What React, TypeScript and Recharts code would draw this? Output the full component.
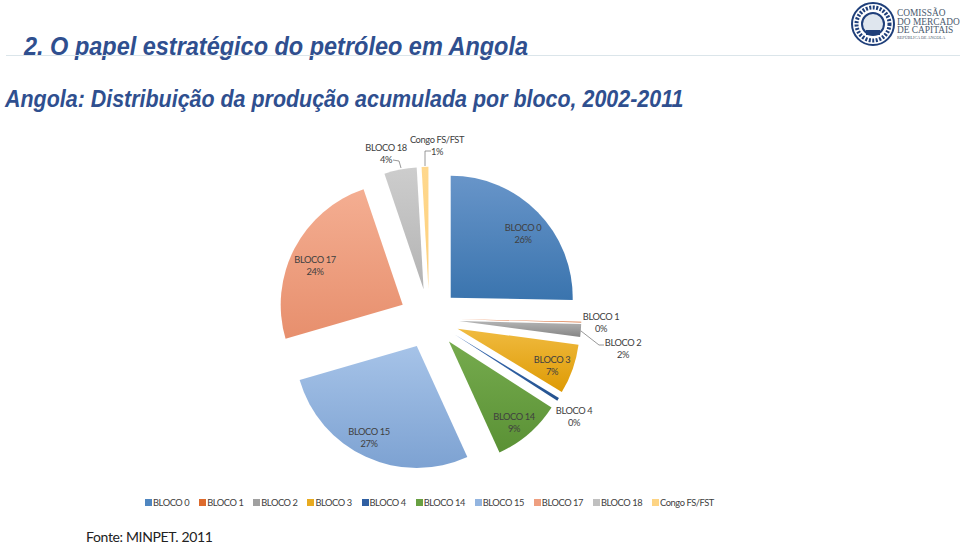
import React from "react";
import { PieChart, Pie, Cell, Legend, Sector } from "recharts";

const blocks = ["BLOCO 0", "BLOCO 1", "BLOCO 2", "BLOCO 3", "BLOCO 4", "BLOCO 14", "BLOCO 15", "BLOCO 17", "BLOCO 18", "Congo FS/FST"];
const shares = [25.3, 0.1, 1.7, 6.6, 0.4, 9.1, 27.3, 24.3, 4.3, 0.9];
const percentLabels = ["26%", "0%", "2%", "7%", "0%", "9%", "27%", "24%", "4%", "1%"];

// top and bottom colour of each slice gradient
const topColors = ["#6895c9", "#e8763a", "#b4b4b4", "#f0bb40", "#3a6cb4", "#76ab4e", "#a6c3e8", "#f4ae92", "#cdcdcd", "#ffd88e"];
const bottomColors = ["#3a74ae", "#cf5c20", "#858585", "#de9a04", "#24528f", "#5a9135", "#7da2d2", "#e78f6d", "#b3b3b3", "#fdd07c"];
// flat colours for the legend squares
const legendColors = ["#4f86c0", "#dd6a2c", "#a0a0a0", "#e8ab20", "#2f5fa2", "#68a042", "#93b5e0", "#ee9f80", "#c0c0c0", "#fdd484"];

const data = blocks.map((name, i) => ({ name, value: shares[i] }));

// Excel "best fit" label spots: [centre x, first line y]
const labelSpots = [
  [523, 227], [601, 316], [623, 342], [552, 359], [574, 410],
  [514, 416], [369, 431], [315, 259], [386, 147], [437, 139],
];
const leaderLines: Record<number, string> = {
  2: "M581 331 L599 345 L604 345",
  8: "M393 160 L399 161 L401 168",
  9: "M431 151 L425 151 L425 166",
};

const EXPLODE = 30;
const RAD = Math.PI / 180;

function ExplodedSlice(props: any) {
  const mid = (props.startAngle + props.endAngle) / 2;
  return (
    <Sector
      {...props}
      cx={props.cx + EXPLODE * Math.cos(mid * RAD)}
      cy={props.cy - EXPLODE * Math.sin(mid * RAD)}
      stroke="none"
    />
  );
}

function SliceLabel(props: any) {
  const i = props.index;
  const [x, y] = labelSpots[i];
  const textStyle = { fontFamily: "Lato", fontSize: 9.3, letterSpacing: -0.4 };
  return (
    <g>
      {leaderLines[i] && <path d={leaderLines[i]} fill="none" stroke="#7f7f7f" strokeWidth={0.8} />}
      <text x={x} y={y + 4} textAnchor="middle" style={textStyle} fill="#404040">
        {blocks[i]}
      </text>
      <text x={x} y={y + 16} textAnchor="middle" style={textStyle} fill="#404040">
        {percentLabels[i]}
      </text>
    </g>
  );
}

function LegendRow() {
  return (
    <div style={{ display: "flex", fontFamily: "Lato", fontSize: 9.3, letterSpacing: -0.42, color: "#404040", whiteSpace: "nowrap" }}>
      {blocks.map((name, i) => (
        <div key={name} style={{ display: "flex", alignItems: "center", marginRight: 9.85 }}>
          <svg width={7} height={7} style={{ marginRight: 1 }}>
            <rect width={7} height={7} fill={legendColors[i]} />
          </svg>
          <span>{name}</span>
        </div>
      ))}
    </div>
  );
}

function Logo() {
  return (
    <svg width={115} height={52} style={{ position: "absolute", left: 845, top: 0 }}>
      <circle cx={28} cy={24} r={21} fill="#fff" stroke="#1f3f7a" strokeWidth={2} />
      <circle cx={28} cy={24} r={16.5} fill="none" stroke="#1f3f7a" strokeWidth={4} strokeDasharray="2 1.5" />
      <circle cx={28} cy={24} r={11} fill="#dfe6ee" stroke="#1f3f7a" strokeWidth={2} />
      <rect x={21} y={30} width={14} height={5} fill="#1f3f7a" />
      <g fontFamily="Liberation Serif" fill="#4a5a6e">
        <text x={52} y={16} fontSize={9.4}>COMISSÃO</text>
        <text x={52} y={24.5} fontSize={9.4}>DO MERCADO</text>
        <text x={52} y={33} fontSize={9.4}>DE CAPITAIS</text>
        <text x={52} y={39} fontSize={4.2}>REPÚBLICA DE ANGOLA</text>
      </g>
    </svg>
  );
}

export default function App() {
  const heading: React.CSSProperties = {
    position: "absolute",
    margin: 0,
    fontFamily: "Liberation Sans",
    fontWeight: "bold",
    fontStyle: "italic",
    color: "#2f4f8f",
    whiteSpace: "nowrap",
    transformOrigin: "left center",
  };

  return (
    <div style={{ position: "absolute", left: 0, top: 0, width: 960, height: 544, overflow: "hidden", background: "#fff" }}>
      <PieChart
        width={960}
        height={544}
        margin={{ top: 0, right: 0, bottom: 0, left: 0 }}
        style={{ position: "absolute", left: 0, top: 0 }}
      >
        <defs>
          {blocks.map((_, i) => (
            <linearGradient key={i} id={`slice-${i}`} x1="0" y1="0" x2="0" y2="1">
              <stop offset="0%" stopColor={topColors[i]} />
              <stop offset="100%" stopColor={bottomColors[i]} />
            </linearGradient>
          ))}
        </defs>
        <Pie
          data={data}
          dataKey="value"
          nameKey="name"
          cx={429.3}
          cy={318.7}
          innerRadius={0}
          outerRadius={122}
          startAngle={90}
          endAngle={-270}
          stroke="none"
          paddingAngle={0}
          shape={ExplodedSlice}
          label={SliceLabel}
          labelLine={false}
          isAnimationActive={false}
        >
          {blocks.map((_, i) => (
            <Cell key={i} fill={`url(#slice-${i})`} />
          ))}
        </Pie>
        <Legend
          verticalAlign="bottom"
          align="left"
          content={<LegendRow />}
          wrapperStyle={{ left: 145, top: 497, bottom: "auto", width: 640 }}
        />
      </PieChart>

      <div style={{ ...heading, left: 24, top: 31, fontSize: 26, transform: "scaleX(0.903)" }}>2. O papel estratégico do petróleo em Angola</div>
      <div style={{ position: "absolute", left: 6, top: 55, width: 954, height: 1, background: "#dbe5ea" }} />
      <div style={{ ...heading, left: 5, top: 86, fontSize: 23.5, transform: "scaleX(0.912)" }}>Angola: Distribuição da produção acumulada por bloco, 2002-2011</div>
      <div style={{ position: "absolute", left: 86, top: 528, fontFamily: "Lato", fontSize: 14, letterSpacing: -0.35, color: "#222", whiteSpace: "nowrap" }}>
        Fonte: MINPET. 2011
      </div>
      <Logo />
    </div>
  );
}
